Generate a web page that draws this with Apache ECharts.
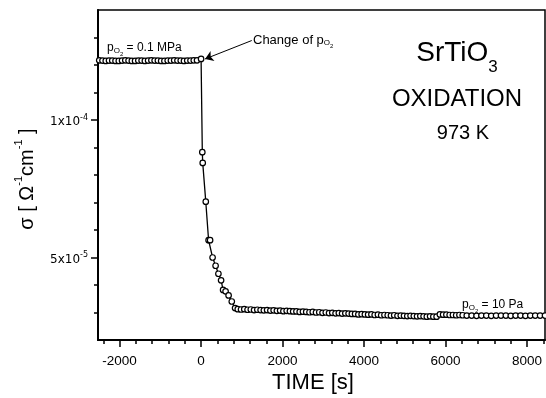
<!DOCTYPE html>
<html>
<head>
<meta charset="utf-8">
<script src="https://cdn.jsdelivr.net/npm/echarts@6/dist/echarts.min.js"></script>
<style>
  html, body { margin: 0; padding: 0; background: #fff; }
  #chart { width: 546px; height: 398px; }
</style>
</head>
<body>
<div id="chart"></div>
<script>
// Conductivity σ is stored in units of 1e-5 Ω^-1 cm^-1, time in seconds.

// Equilibrium at p(O2) = 0.1 MPa, before the switch
const preTime = [-2500, -2420, -2340, -2260, -2180, -2100, -2020, -1940, -1860, -1780,
  -1700, -1620, -1540, -1460, -1380, -1300, -1220, -1140, -1060, -980,
  -900, -820, -740, -660, -580, -500, -420, -340, -260, -180, -100, 0];
const preSigma = [12.17, 12.16, 12.15, 12.16, 12.16, 12.15, 12.15, 12.16, 12.17, 12.16,
  12.15, 12.15, 12.16, 12.16, 12.15, 12.16, 12.17, 12.16, 12.16, 12.15,
  12.15, 12.16, 12.16, 12.17, 12.16, 12.16, 12.15, 12.16, 12.16, 12.17, 12.17, 12.22];

// Fast drop after the change of p(O2)
const dropTime = [30, 40, 115, 184, 221, 282, 356, 425, 491, 540, 601, 675, 753, 834];
const dropSigma = [8.83, 8.44, 7.03, 5.63, 5.63, 5.00, 4.70, 4.41, 4.17, 3.82, 3.77, 3.62, 3.40, 3.16];

// Slow relaxation at p(O2) = 10 Pa
const relaxTime = [900, 980, 1060, 1140, 1220, 1300, 1380, 1460, 1540, 1620,
  1700, 1780, 1860, 1940, 2020, 2100, 2180, 2260, 2340, 2420,
  2500, 2580, 2660, 2740, 2820, 2900, 2980, 3060, 3140, 3220,
  3300, 3380, 3460, 3540, 3620, 3700, 3780, 3860, 3940, 4020,
  4100, 4180, 4260, 4340, 4420, 4500, 4580, 4660, 4740, 4820,
  4900, 4980, 5060, 5140, 5220, 5300, 5380, 5460, 5540, 5620, 5700, 5780];
const relaxSigma = [3.12, 3.11, 3.12, 3.10, 3.11, 3.09, 3.10, 3.09, 3.08, 3.09,
  3.07, 3.08, 3.06, 3.07, 3.05, 3.06, 3.05, 3.04, 3.04, 3.02,
  3.03, 3.02, 3.01, 3.02, 3.00, 3.01, 2.99, 3.00, 2.98, 2.99,
  2.97, 2.98, 2.96, 2.97, 2.96, 2.95, 2.95, 2.93, 2.94, 2.93,
  2.92, 2.93, 2.91, 2.92, 2.90, 2.91, 2.90, 2.89, 2.90, 2.88,
  2.89, 2.88, 2.87, 2.88, 2.87, 2.86, 2.87, 2.86, 2.85, 2.86, 2.85, 2.85];

const stepTime = [5860, 5940, 6020, 6100, 6180, 6260, 6340, 6420];
const stepSigma = [2.93, 2.92, 2.92, 2.91, 2.91, 2.90, 2.91, 2.90];

const lateTime = [6520, 6640, 6760, 6880, 7000, 7120, 7240, 7360, 7480, 7600,
  7720, 7840, 7960, 8080, 8200, 8320, 8440];
const lateSigma = [2.89, 2.89, 2.88, 2.89, 2.89, 2.88, 2.89, 2.89, 2.89, 2.88,
  2.89, 2.89, 2.88, 2.89, 2.89, 2.89, 2.89];

// Axis ticks
const xMajor = [-2000, 0, 2000, 4000, 6000, 8000];
const xMinor = [-2400, -1600, -1200, -800, -400, 400, 800, 1200, 1600,
  2400, 2800, 3200, 3600, 4400, 4800, 5200, 5600, 6400, 6800, 7200, 7600, 8400];
const yMajor = [5, 10];
const yMinor = [3, 4, 6, 7, 8, 9, 11, 12, 13];

const xRange = [-2530, 8440];
const yRange = [2, 14];

const points = [];
[[preTime, preSigma], [dropTime, dropSigma], [relaxTime, relaxSigma],
 [stepTime, stepSigma], [lateTime, lateSigma]].forEach(([t, s]) => {
  t.forEach((v, i) => points.push([v, s[i]]));
});

const FONT = '"Liberation Sans", Arial, Helvetica, sans-serif';
const chart = echarts.init(document.getElementById('chart'), null, { renderer: 'canvas' });

const baseX = {
  type: 'value', min: xRange[0], max: xRange[1], position: 'bottom',
  splitLine: { show: false }, gridIndex: 0
};
const baseY = {
  type: 'value', min: yRange[0], max: yRange[1], position: 'left',
  splitLine: { show: false }, gridIndex: 0
};

const yLabelText = (v) => (Math.abs(v - 10) < 1e-9 ? '1x10{s|-4}' : '5x10{s|-5}');
const subRich = {
  o: { fontSize: 8, lineHeight: 10, verticalAlign: 'bottom', fontFamily: FONT, fill: '#000', padding: [0, 0, 2, 0] },
  t: { fontSize: 6, lineHeight: 7, verticalAlign: 'bottom', fontFamily: FONT, fill: '#000' }
};

chart.setOption({
  animation: false,
  backgroundColor: '#fff',
  grid: {
    left: 98, right: 1, top: 10, bottom: 58,
    show: true, borderColor: '#000', borderWidth: 1.5, backgroundColor: 'transparent'
  },
  xAxis: [
    Object.assign({}, baseX, {
      axisLine: { show: true, onZero: false, lineStyle: { color: '#000', width: 2 } },
      axisTick: { show: true, customValues: xMajor, length: 7, lineStyle: { color: '#000', width: 1.5 } },
      axisLabel: {
        show: true, customValues: xMajor, margin: 14, color: '#000',
        fontFamily: FONT, fontSize: 13.5, formatter: (v) => String(v)
      }
    }),
    Object.assign({}, baseX, {
      axisLine: { show: false, onZero: false },
      axisTick: { show: true, customValues: xMinor, length: 4, lineStyle: { color: '#000', width: 1.5 } },
      axisLabel: { show: false }
    })
  ],
  yAxis: [
    Object.assign({}, baseY, {
      axisLine: { show: true, onZero: false, lineStyle: { color: '#000', width: 2 } },
      axisTick: { show: true, customValues: yMajor, length: 7, lineStyle: { color: '#000', width: 1.5 } },
      axisLabel: {
        show: true, customValues: yMajor, margin: 10, color: '#000',
        fontFamily: '"DejaVu Sans", sans-serif', fontSize: 12, lineHeight: 17,
        padding: [4, 0, 0, 0],
        formatter: yLabelText,
        rich: { s: { fontSize: 8, verticalAlign: 'top', fontFamily: '"DejaVu Sans", sans-serif', color: '#000' } }
      }
    }),
    Object.assign({}, baseY, {
      axisLine: { show: false, onZero: false },
      axisTick: { show: true, customValues: yMinor, length: 4, lineStyle: { color: '#000', width: 1.5 } },
      axisLabel: { show: false }
    })
  ],
  series: [{
    type: 'line',
    xAxisIndex: 0, yAxisIndex: 0,
    data: points,
    symbol: 'circle', symbolSize: 5.5, showSymbol: true, showAllSymbol: true,
    lineStyle: { color: '#000', width: 1.3 },
    itemStyle: { color: '#fff', borderColor: '#000', borderWidth: 1.2 },
    emphasis: { disabled: true },
    silent: true,
    markLine: {
      silent: true, animation: false,
      symbol: ['none', 'arrow'], symbolSize: 8,
      lineStyle: { color: '#000', width: 1, type: 'solid' },
      label: { show: false },
      data: [[{ coord: [1244, 12.89] }, { coord: [98, 12.22] }]]
    }
  }],
  graphic: [
    {
      type: 'text', x: 27, y: 179, rotation: Math.PI / 2,
      style: {
        text: 'σ [ Ω{s|-1}cm{s|-1} ]', fill: '#000',
        font: '20px ' + FONT, textAlign: 'center', textVerticalAlign: 'middle',
        align: 'center', verticalAlign: 'middle', lineHeight: 28,
        rich: { s: { fontSize: 11, verticalAlign: 'top', fontFamily: FONT, fill: '#000' } }
      }
    },
    {
      type: 'text', x: 313, y: 383,
      style: {
        text: 'TIME [s]', fill: '#000', font: '22px ' + FONT,
        textAlign: 'center', textVerticalAlign: 'middle', align: 'center', verticalAlign: 'middle'
      }
    },
    {
      type: 'text', x: 457, y: 53,
      style: {
        text: 'SrTiO{b|3}', fill: '#000', font: '28px ' + FONT, lineHeight: 46,
        textAlign: 'center', textVerticalAlign: 'middle', align: 'center', verticalAlign: 'middle',
        rich: { b: { fontSize: 17, lineHeight: 17, verticalAlign: 'bottom', fontFamily: FONT, fill: '#000' } }
      }
    },
    {
      type: 'text', x: 457, y: 99,
      style: {
        text: 'OXIDATION', fill: '#000', font: '24px ' + FONT,
        textAlign: 'center', textVerticalAlign: 'middle', align: 'center', verticalAlign: 'middle'
      }
    },
    {
      type: 'text', x: 463, y: 133,
      style: {
        text: '973 K', fill: '#000', font: '20px ' + FONT,
        textAlign: 'center', textVerticalAlign: 'middle', align: 'center', verticalAlign: 'middle'
      }
    },
    {
      type: 'text', x: 107, y: 48,
      style: {
        text: 'p{o|O}{t|2} = 0.1 MPa', fill: '#000', font: '12px ' + FONT, lineHeight: 18,
        textAlign: 'left', textVerticalAlign: 'middle', align: 'left', verticalAlign: 'middle',
        rich: subRich
      }
    },
    {
      type: 'text', x: 253, y: 40,
      style: {
        text: 'Change of p{o|O}{t|2}', fill: '#000', font: '13px ' + FONT, lineHeight: 18,
        textAlign: 'left', textVerticalAlign: 'middle', align: 'left', verticalAlign: 'middle',
        rich: subRich
      }
    },
    {
      type: 'text', x: 462, y: 305,
      style: {
        text: 'p{o|O}{t|2} = 10 Pa', fill: '#000', font: '12px ' + FONT, lineHeight: 18,
        textAlign: 'left', textVerticalAlign: 'middle', align: 'left', verticalAlign: 'middle',
        rich: subRich
      }
    }
  ]
});
</script>
</body>
</html>
